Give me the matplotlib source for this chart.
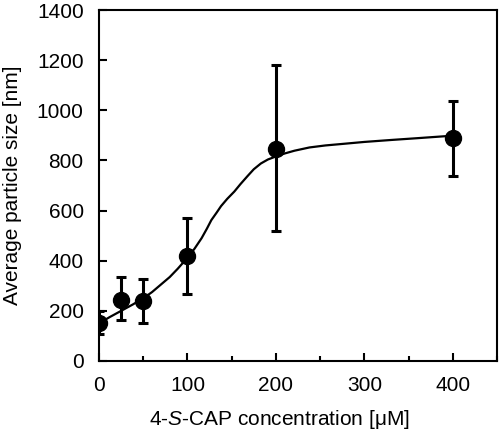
import matplotlib
matplotlib.use("Agg")
import matplotlib.pyplot as plt
from matplotlib.ticker import MultipleLocator

plt.rcParams['font.family'] = ['Liberation Sans', 'DejaVu Sans']
plt.rcParams['mathtext.fontset'] = 'custom'
plt.rcParams['mathtext.rm'] = 'Liberation Sans'
plt.rcParams['mathtext.it'] = 'Liberation Sans:italic'

# data
conc = [0, 25, 50, 100, 200, 400]
size = [153, 243, 239, 418, 845, 889]
err_low = [47, 80, 87, 151, 325, 151]
err_high = [45, 92, 88, 152, 336, 148]

# fitted curve
curve_x = [0, 12, 25, 38, 50, 60, 70, 80, 89, 100, 108, 116, 122, 127, 133, 138,
           145, 153, 160, 168, 175, 183, 191, 200, 210, 221, 238, 256, 275, 300,
           331, 360, 392, 400]
curve_y = [150, 175, 200, 225, 250, 275, 305, 335, 368, 412, 448, 490, 528, 562,
           592, 618, 647, 676, 706, 738, 765, 788, 804, 816, 828, 839, 852, 860,
           866, 874, 882, 889, 897, 899]

fig = plt.figure(figsize=(5.0, 4.3), dpi=100)
ax = fig.add_axes([0.198, 0.1605, 0.796, 0.816])

ax.plot(curve_x, curve_y, color='black', lw=1.6, zorder=2)
ax.errorbar(conc, size, yerr=[err_low, err_high], fmt='o', color='black',
            ms=11.5, elinewidth=2.2, capsize=3.4, capthick=2.2, zorder=3)

ax.set_xlim(0, 450)
ax.set_ylim(0, 1400)
ax.xaxis.set_major_locator(MultipleLocator(100))
ax.xaxis.set_minor_locator(MultipleLocator(50))
ax.yaxis.set_major_locator(MultipleLocator(200))
ax.tick_params(which='both', direction='in', width=1.5, labelsize=15, pad=11)
ax.tick_params(which='major', length=6)
ax.tick_params(which='minor', length=3.8)
for s in ax.spines.values():
    s.set_linewidth(1.5)

ax.set_xlabel(r'4-$\it{S}$-CAP concentration [μM]', fontsize=15, labelpad=9)
ax.xaxis.label.set_x(0.452)
ax.set_ylabel('Average particle size [nm]', fontsize=15, labelpad=11)

fig.savefig('out.png', dpi=100)
